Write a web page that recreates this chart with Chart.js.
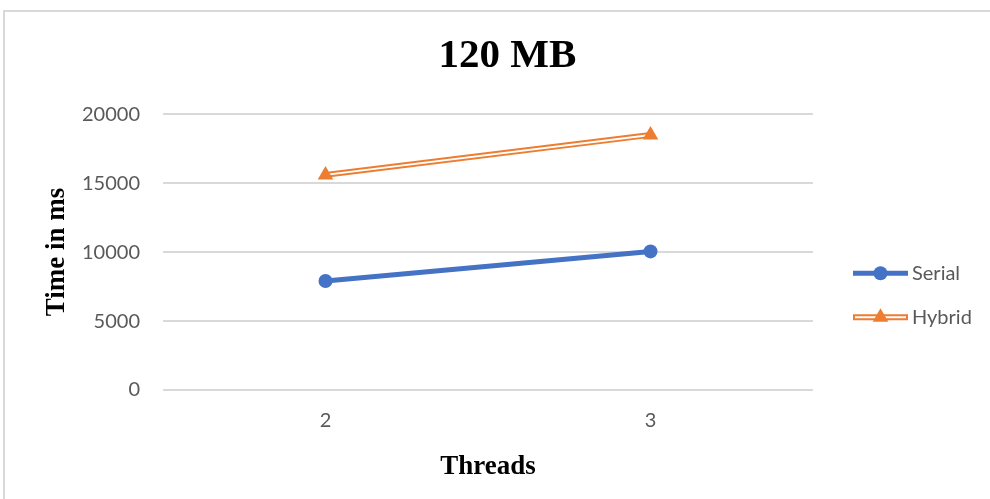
<!DOCTYPE html>
<html>
<head>
<meta charset="utf-8">
<script src="https://cdn.jsdelivr.net/npm/chart.js@4"></script>
<style>
  html, body { margin: 0; padding: 0; background: #fff; overflow: hidden; width: 990px; height: 499px; }
  #frame { position: absolute; left: 3px; top: 10px; width: 1100px; height: 600px; border: 2px solid #d9d9d9; box-sizing: border-box; }
  #chart { position: absolute; left: 0; top: 0; }
</style>
</head>
<body>
<div id="frame"></div>
<canvas id="chart" width="1015" height="499"></canvas>
<script>
// Run time (ms) for a 120 MB input, by number of threads
const threadCounts = ['2', '3'];
const serialTimes = [7900, 10050];
const hybridTimes = [15600, 18500];
const timeTicks = [0, 5000, 10000, 15000, 20000];

const BLUE = '#4472C4';
const ORANGE = '#ED7D31';
const TICK_COLOR = '#595959';
const SERIF = "'Liberation Serif', 'Times New Roman', serif";
const SANS = "Lato, 'Open Sans', sans-serif";

// Legend drawn beside the plot: a line sample with its marker, then the name
const seriesLegend = {
  id: 'seriesLegend',
  afterDraw(chart) {
    const ctx = chart.ctx;
    const area = chart.chartArea;
    const x0 = area.right + 40;
    const x1 = x0 + 55;
    const xm = (x0 + x1) / 2;
    const entries = chart.data.datasets.filter(d => d.legendRow !== undefined);
    ctx.save();
    entries.forEach(d => {
      const y = area.top + 159 + d.legendRow * 44;
      ctx.lineCap = 'butt';
      if (d.doubleLine) {
        ctx.strokeStyle = ORANGE; ctx.lineWidth = 6;
        ctx.beginPath(); ctx.moveTo(x0, y); ctx.lineTo(x1, y); ctx.stroke();
        ctx.strokeStyle = '#fff'; ctx.lineWidth = 2;
        ctx.beginPath(); ctx.moveTo(x0 + 2, y); ctx.lineTo(x1 - 2, y); ctx.stroke();
      } else {
        ctx.strokeStyle = d.borderColor; ctx.lineWidth = d.borderWidth;
        ctx.beginPath(); ctx.moveTo(x0, y); ctx.lineTo(x1, y); ctx.stroke();
      }
      ctx.fillStyle = d.legendColor;
      ctx.strokeStyle = d.legendColor;
      Chart.helpers.drawPoint(ctx, {
        pointStyle: d.legendMarker,
        radius: d.legendRadius,
        rotation: 0,
        borderWidth: 0
      }, xm, y);
      ctx.fillStyle = TICK_COLOR;
      ctx.font = '20px ' + SANS;
      ctx.textBaseline = 'middle';
      ctx.textAlign = 'left';
      ctx.fillText(d.label, x1 + 4, y);
    });
    ctx.restore();
  }
};

new Chart(document.getElementById('chart'), {
  type: 'line',
  data: {
    labels: threadCounts,
    datasets: [
      {
        label: 'Serial',
        data: serialTimes,
        borderColor: BLUE,
        backgroundColor: BLUE,
        borderWidth: 5,
        pointStyle: 'circle',
        pointRadius: 7,
        pointBackgroundColor: BLUE,
        pointBorderColor: BLUE,
        pointBorderWidth: 0,
        order: 0,
        legendRow: 0,
        legendMarker: 'circle',
        legendRadius: 7,
        legendColor: BLUE
      },
      {
        // Hybrid: orange outer stroke
        label: 'Hybrid',
        data: hybridTimes,
        borderColor: ORANGE,
        borderWidth: 6,
        pointRadius: 0,
        order: 3,
        legendRow: 1,
        doubleLine: true,
        legendMarker: 'triangle',
        legendRadius: 9,
        legendColor: ORANGE
      },
      {
        // Hybrid: white core that makes the double line
        label: 'Hybrid core',
        data: hybridTimes,
        borderColor: '#ffffff',
        borderWidth: 2,
        pointRadius: 0,
        order: 2
      },
      {
        // Hybrid: triangle markers
        label: 'Hybrid markers',
        data: hybridTimes,
        showLine: false,
        pointStyle: 'triangle',
        pointRadius: 9,
        pointBackgroundColor: ORANGE,
        pointBorderColor: ORANGE,
        pointBorderWidth: 0,
        order: 1
      }
    ]
  },
  options: {
    responsive: false,
    devicePixelRatio: 1,
    animation: false,
    layout: { padding: 0 },
    plugins: {
      legend: { display: false },
      tooltip: { enabled: false },
      title: {
        display: true,
        text: '120 MB',
        color: '#000',
        font: { family: SERIF, size: 41, weight: 'bold', lineHeight: 1.2 },
        padding: { top: 32, bottom: 33 }
      }
    },
    scales: {
      x: {
        type: 'category',
        offset: true,
        grid: { display: false, drawTicks: false },
        border: { display: false },
        ticks: { color: TICK_COLOR, font: { family: SANS, size: 20 }, padding: 19 },
        title: {
          display: true,
          text: 'Threads',
          color: '#000',
          font: { family: SERIF, size: 27, weight: 'bold', lineHeight: 1.2 },
          padding: { top: 0, bottom: 16 }
        },
        afterFit(scale) { scale.height = 109; }
      },
      y: {
        position: 'left',
        min: timeTicks[0],
        max: timeTicks[timeTicks.length - 1],
        afterBuildTicks(scale) { scale.ticks = timeTicks.map(v => ({ value: v })); },
        grid: { color: '#d9d9d9', lineWidth: 2, drawTicks: false },
        border: { display: false },
        ticks: {
          color: TICK_COLOR,
          font: { family: SANS, size: 20 },
          padding: 23,
          callback: v => String(v)
        },
        title: {
          display: true,
          text: 'Time in ms',
          color: '#000',
          font: { family: SERIF, size: 27, weight: 'bold', lineHeight: 1.2 },
          padding: { top: 41, bottom: 0 }
        },
        afterFit(scale) { scale.width = 163; }
      },
      legendSpace: {
        type: 'linear',
        position: 'right',
        display: true,
        grid: { display: false, drawTicks: false },
        border: { display: false },
        ticks: { display: false },
        afterFit(scale) { scale.width = 202; }
      }
    }
  },
  plugins: [seriesLegend]
});
</script>
</body>
</html>
